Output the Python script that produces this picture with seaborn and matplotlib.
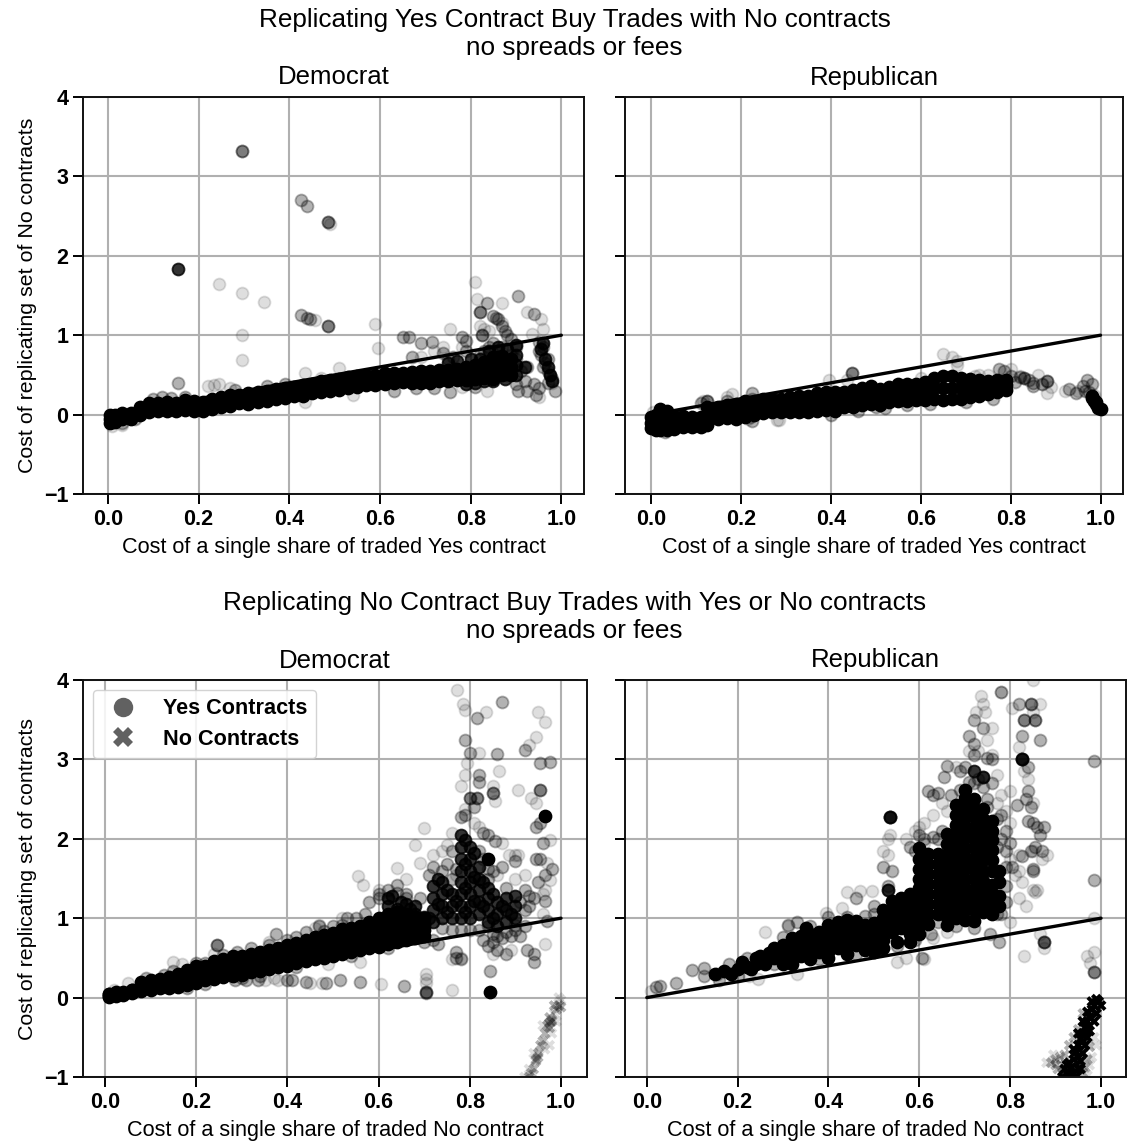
#Replicating contract trades, four scatter panels
import seaborn as sns
import matplotlib.pyplot as plt
from matplotlib.lines import Line2D

W, H = 1134, 1141

panel_titles = ["Democrat", "Republican"]
x_ticks = [0.0, 0.2, 0.4, 0.6, 0.8, 1.0]
y_ticks = [-1, 0, 1, 2, 3, 4]
parity_x = [0, 1]
parity_y = [0, 1]

# top left, Democrat Yes trades: band read as rows across its thickness
a_band_x = [0.005, 0.015, 0.03, 0.05, 0.07, 0.09, 0.11, 0.13, 0.15, 0.17, 0.19, 0.21, 0.23, 0.25, 0.27, 0.29, 0.31, 0.33, 0.35, 0.37, 0.39, 0.41, 0.43, 0.45, 0.47, 0.49, 0.51, 0.53, 0.55, 0.57, 0.59, 0.61, 0.63, 0.65, 0.67, 0.69, 0.71, 0.73, 0.75, 0.77, 0.79, 0.81, 0.83, 0.85, 0.87, 0.89]
a_band_low = [-0.1, -0.09, -0.06, -0.05, 0.0, 0.03, 0.04, 0.05, 0.05, 0.06, 0.05, 0.05, 0.07, 0.1, 0.11, 0.14, 0.13, 0.16, 0.17, 0.2, 0.21, 0.24, 0.24, 0.27, 0.29, 0.3, 0.31, 0.34, 0.35, 0.37, 0.37, 0.39, 0.4, 0.41, 0.4, 0.4, 0.4, 0.42, 0.42, 0.43, 0.44, 0.45, 0.46, 0.45, 0.5, 0.5]
a_band_mid = [-0.05, -0.05, -0.02, -0.02, 0.05, 0.08, 0.1, 0.1, 0.1, 0.12, 0.11, 0.1, 0.13, 0.16, 0.18, 0.2, 0.2, 0.22, 0.24, 0.26, 0.27, 0.3, 0.3, 0.33, 0.35, 0.37, 0.38, 0.4, 0.42, 0.43, 0.44, 0.45, 0.46, 0.47, 0.47, 0.47, 0.47, 0.49, 0.49, 0.5, 0.52, 0.53, 0.56, 0.58, 0.62, 0.6]
a_band_high = [0.0, 0.0, 0.02, 0.02, 0.1, 0.14, 0.15, 0.16, 0.15, 0.18, 0.17, 0.16, 0.2, 0.22, 0.25, 0.25, 0.27, 0.28, 0.3, 0.32, 0.33, 0.35, 0.37, 0.38, 0.42, 0.43, 0.45, 0.47, 0.48, 0.5, 0.5, 0.52, 0.52, 0.53, 0.54, 0.55, 0.55, 0.56, 0.56, 0.58, 0.6, 0.62, 0.66, 0.72, 0.74, 0.7]
a_thick = [(0.8, 0.7), (0.82, 0.7), (0.84, 0.65), (0.84, 0.8), (0.86, 0.6), (0.86, 0.72), (0.86, 0.85), (0.88, 0.55), (0.88, 0.68), (0.88, 0.82), (0.9, 0.5), (0.9, 0.62), (0.9, 0.75), (0.9, 0.88), (0.875, 0.45), (0.85, 0.42), (0.83, 0.42), (0.81, 0.4), (0.79, 0.38), (0.92, 0.6), (0.97, 0.6), (0.975, 0.5), (0.98, 0.42), (0.965, 0.7), (0.955, 0.82), (0.96, 0.9), (0.75, 0.65), (0.77, 0.68)]
a_mid = [(0.295, 3.32), (0.295, 3.32), (0.485, 2.42), (0.485, 2.42), (0.425, 2.7), (0.44, 2.63), (0.425, 1.25), (0.44, 1.22), (0.445, 1.21), (0.485, 1.12), (0.485, 1.12), (0.82, 1.29), (0.82, 1.29), (0.835, 1.4), (0.85, 1.24), (0.855, 1.22), (0.86, 1.2), (0.87, 1.12), (0.875, 1.05), (0.88, 1.0), (0.89, 0.95), (0.825, 1.0), (0.825, 1.0), (0.78, 0.98), (0.79, 0.93), (0.715, 0.92), (0.69, 0.9), (0.65, 0.98), (0.665, 0.98), (0.67, 0.72), (0.74, 0.78), (0.76, 0.72), (0.75, 0.7), (0.755, 0.28), (0.63, 0.3), (0.9, 0.38), (0.905, 0.3), (0.925, 0.3), (0.945, 0.25), (0.985, 0.3), (0.97, 0.4), (0.98, 0.45), (0.975, 0.5), (0.97, 0.55), (0.96, 0.6), (0.965, 0.65), (0.97, 0.7), (0.955, 0.75), (0.95, 0.8), (0.96, 0.85), (0.95, 0.92), (0.94, 1.27), (0.905, 1.49), (0.925, 0.6), (0.88, 0.65), (0.86, 0.8), (0.87, 0.85), (0.9, 0.85), (0.89, 0.75), (0.88, 0.6), (0.9, 0.62), (0.91, 0.55), (0.92, 0.42), (0.85, 0.9), (0.84, 0.85), (0.83, 0.8), (0.82, 0.75), (0.94, 0.38), (0.95, 0.33), (0.155, 0.4), (0.86, 0.55), (0.88, 0.5), (0.9, 0.7), (0.87, 0.7), (0.85, 0.6), (0.1, 0.2), (0.12, 0.22), (0.14, 0.21), (0.17, 0.22), (0.28, 0.31), (0.35, 0.36), (0.39, 0.39), (0.68, 0.33), (0.72, 0.33), (0.79, 0.8), (0.81, 0.35), (0.06, -0.06), (0.03, -0.11)]
a_faint = [(0.245, 1.64), (0.295, 1.53), (0.345, 1.42), (0.295, 1.0), (0.295, 0.69), (0.49, 2.4), (0.457, 1.19), (0.59, 1.14), (0.595, 0.84), (0.51, 0.59), (0.435, 0.53), (0.81, 1.67), (0.815, 1.46), (0.87, 1.4), (0.925, 1.29), (0.955, 1.21), (0.96, 1.08), (0.935, 1.02), (0.755, 1.08), (0.82, 1.12), (0.83, 1.08), (0.84, 1.05), (0.87, 1.15), (0.78, 0.85), (0.69, 0.73), (0.95, 0.22), (0.835, 0.3), (0.78, 0.35), (0.98, 0.4), (0.22, 0.36), (0.235, 0.37), (0.245, 0.38), (0.435, 0.16), (0.27, 0.33), (0.72, 0.8), (0.74, 0.85), (0.47, 0.46), (0.54, 0.25), (0.01, -0.14), (0.03, -0.13)]
a_dark = [(0.155, 1.83)]

# top right, Republican Yes trades
b_band_x = [0.0, 0.01, 0.02, 0.035, 0.05, 0.07, 0.09, 0.11, 0.125, 0.15, 0.17, 0.19, 0.21, 0.23, 0.25, 0.27, 0.29, 0.31, 0.33, 0.35, 0.37, 0.39, 0.41, 0.43, 0.45, 0.47, 0.49, 0.51, 0.53, 0.55, 0.57, 0.59, 0.61, 0.63, 0.65, 0.67, 0.69, 0.71, 0.73, 0.75, 0.77, 0.79]
b_band_low = [-0.17, -0.19, -0.2, -0.19, -0.18, -0.16, -0.15, -0.15, -0.13, -0.05, -0.04, -0.06, -0.03, 0.0, 0.02, 0.03, 0.03, 0.03, 0.03, 0.03, 0.05, 0.06, 0.05, 0.09, 0.1, 0.12, 0.13, 0.12, 0.16, 0.17, 0.17, 0.18, 0.18, 0.2, 0.19, 0.2, 0.2, 0.22, 0.24, 0.26, 0.28, 0.31]
b_band_mid = [-0.1, -0.1, -0.08, -0.1, -0.1, -0.09, -0.09, -0.09, -0.02, 0.02, 0.04, 0.04, 0.07, 0.08, 0.11, 0.12, 0.12, 0.13, 0.13, 0.14, 0.16, 0.17, 0.17, 0.19, 0.2, 0.23, 0.25, 0.22, 0.26, 0.28, 0.28, 0.28, 0.3, 0.33, 0.34, 0.34, 0.33, 0.33, 0.33, 0.34, 0.35, 0.37]
b_band_high = [-0.03, 0.0, 0.07, 0.04, -0.02, -0.02, -0.03, -0.03, 0.1, 0.1, 0.12, 0.13, 0.17, 0.16, 0.2, 0.2, 0.2, 0.22, 0.23, 0.24, 0.27, 0.28, 0.29, 0.29, 0.31, 0.34, 0.36, 0.32, 0.35, 0.39, 0.38, 0.38, 0.41, 0.46, 0.49, 0.48, 0.46, 0.45, 0.43, 0.42, 0.43, 0.44]
b_mid = [(0.125, 0.17), (0.125, 0.17), (0.11, 0.15), (0.17, 0.17), (0.225, 0.27), (0.225, 0.2), (0.22, -0.03), (0.447, 0.52), (0.447, 0.52), (0.46, 0.05), (0.775, 0.58), (0.785, 0.55), (0.8, 0.48), (0.82, 0.47), (0.83, 0.46), (0.83, 0.46), (0.84, 0.43), (0.85, 0.4), (0.85, 0.36), (0.87, 0.38), (0.88, 0.42), (0.88, 0.42), (0.81, 0.41), (0.97, 0.43), (0.93, 0.32), (0.96, 0.36), (0.965, 0.3), (0.945, 0.27), (0.98, 0.38), (0.975, 0.28), (0.52, 0.08), (0.5, 0.1), (0.57, 0.12), (0.7, 0.16), (0.76, 0.2), (0.62, 0.13), (0.4, 0.0), (0.225, -0.08), (0.03, -0.22)]
b_faint = [(0.65, 0.76), (0.67, 0.72), (0.68, 0.67), (0.68, 0.62), (0.395, 0.44), (0.435, 0.43), (0.28, -0.07), (0.285, -0.07), (0.17, 0.22), (0.18, 0.26), (0.115, 0.17), (0.215, -0.05), (0.87, 0.38), (0.89, 0.35), (0.88, 0.27), (0.86, 0.5), (0.92, 0.3), (0.95, 0.3), (0.76, 0.38), (0.73, 0.5), (0.72, 0.48), (0.8, 0.57), (0.82, 0.48), (0.6, 0.46), (0.005, 0.03), (0.75, 0.5), (0.985, 0.25)]
b_dark = [(0.98, 0.23), (0.985, 0.19), (0.99, 0.13), (0.995, 0.08), (1.0, 0.07), (0.98, 0.21), (0.99, 0.16), (0.985, 0.17)]

# bottom left, Democrat No trades
c_band_x = [0.01, 0.025, 0.04, 0.06, 0.08, 0.1, 0.12, 0.14, 0.16, 0.18, 0.2, 0.22, 0.24, 0.26, 0.28, 0.3, 0.32, 0.34, 0.36, 0.38, 0.4, 0.42, 0.44, 0.46, 0.48, 0.5, 0.52, 0.54, 0.56, 0.58, 0.6, 0.62, 0.64, 0.66, 0.68, 0.7]
c_band_low = [0.01, 0.02, 0.03, 0.06, 0.08, 0.1, 0.12, 0.12, 0.13, 0.16, 0.18, 0.22, 0.24, 0.26, 0.27, 0.29, 0.32, 0.33, 0.36, 0.38, 0.4, 0.44, 0.46, 0.48, 0.5, 0.52, 0.55, 0.57, 0.6, 0.62, 0.64, 0.68, 0.7, 0.72, 0.75, 0.78]
c_band_mid1 = [0.02, 0.04, 0.04, 0.07, 0.12, 0.14, 0.16, 0.17, 0.2, 0.22, 0.25, 0.28, 0.31, 0.33, 0.35, 0.37, 0.4, 0.41, 0.44, 0.46, 0.49, 0.52, 0.55, 0.57, 0.6, 0.62, 0.66, 0.68, 0.7, 0.73, 0.77, 0.8, 0.83, 0.83, 0.84, 0.85]
c_band_mid2 = [0.04, 0.05, 0.06, 0.09, 0.16, 0.18, 0.2, 0.22, 0.25, 0.29, 0.33, 0.34, 0.39, 0.41, 0.44, 0.45, 0.48, 0.49, 0.52, 0.55, 0.57, 0.6, 0.63, 0.67, 0.7, 0.72, 0.76, 0.78, 0.8, 0.84, 0.88, 0.92, 0.95, 0.94, 0.93, 0.93]
c_band_high = [0.05, 0.07, 0.07, 0.1, 0.2, 0.22, 0.24, 0.26, 0.3, 0.35, 0.4, 0.4, 0.46, 0.48, 0.52, 0.53, 0.55, 0.57, 0.6, 0.63, 0.66, 0.69, 0.72, 0.76, 0.79, 0.81, 0.86, 0.88, 0.9, 0.95, 1.0, 1.05, 1.08, 1.05, 1.02, 1.0]
c_peak = [(0.62, 0.85), (0.62, 1.0), (0.62, 1.15), (0.62, 1.25), (0.64, 0.85), (0.64, 1.0), (0.64, 1.12), (0.66, 0.85), (0.66, 1.0), (0.66, 1.18), (0.68, 0.9), (0.68, 1.05), (0.68, 1.15), (0.7, 0.9), (0.7, 1.02), (0.72, 0.95), (0.72, 1.1), (0.72, 1.25), (0.72, 1.4), (0.74, 1.0), (0.74, 1.15), (0.74, 1.3), (0.74, 1.45), (0.76, 1.0), (0.76, 1.15), (0.76, 1.3), (0.78, 1.0), (0.78, 1.15), (0.78, 1.3), (0.78, 1.45), (0.78, 1.6), (0.78, 1.75), (0.78, 1.9), (0.78, 2.05), (0.8, 1.0), (0.8, 1.15), (0.8, 1.3), (0.8, 1.45), (0.8, 1.6), (0.8, 1.75), (0.8, 1.9), (0.82, 1.05), (0.82, 1.2), (0.82, 1.35), (0.82, 1.5), (0.82, 1.65), (0.84, 0.95), (0.84, 1.1), (0.84, 1.25), (0.84, 1.38), (0.86, 0.9), (0.86, 1.05), (0.86, 1.2), (0.88, 0.95), (0.88, 1.1), (0.88, 1.25), (0.9, 1.0), (0.9, 1.15), (0.9, 1.28), (0.79, 1.08), (0.79, 1.38), (0.79, 1.68), (0.79, 1.98), (0.81, 1.22), (0.81, 1.52), (0.81, 1.82), (0.83, 1.15), (0.83, 1.45), (0.85, 1.0), (0.85, 1.3), (0.87, 1.15), (0.89, 1.05), (0.73, 1.18), (0.73, 1.5), (0.75, 1.08), (0.75, 1.35), (0.77, 1.22), (0.71, 1.0), (0.67, 1.12), (0.65, 1.2), (0.63, 1.28)]
c_mid = [(0.245, 0.66), (0.245, 0.66), (0.375, 0.8), (0.285, 0.22), (0.31, 0.22), (0.335, 0.22), (0.4, 0.22), (0.41, 0.22), (0.44, 0.2), (0.485, 0.18), (0.515, 0.22), (0.56, 0.2), (0.655, 0.15), (0.705, 0.07), (0.705, 0.06), (0.705, 0.07), (0.845, 0.33), (0.97, 0.97), (0.965, 1.22), (0.95, 1.45), (0.965, 1.55), (0.955, 1.75), (0.945, 1.75), (0.98, 1.62), (0.96, 1.95), (0.945, 2.15), (0.955, 2.2), (0.955, 2.62), (0.955, 2.62), (0.955, 2.95), (0.975, 2.97), (0.85, 2.58), (0.85, 2.58), (0.86, 3.07), (0.87, 3.72), (0.92, 3.12), (0.79, 3.24), (0.8, 3.08), (0.815, 3.52), (0.8, 2.52), (0.8, 2.52), (0.815, 2.52), (0.815, 2.52), (0.81, 2.4), (0.82, 2.72), (0.82, 2.8), (0.78, 2.28), (0.79, 2.3), (0.84, 2.05), (0.83, 2.07), (0.855, 1.97), (0.9, 1.72), (0.87, 1.65), (0.85, 1.6), (0.74, 1.6), (0.71, 1.55), (0.72, 1.65), (0.64, 1.42), (0.62, 1.35), (0.58, 1.2), (0.55, 1.0), (0.53, 1.0), (0.47, 0.9), (0.44, 0.82), (0.92, 1.35), (0.93, 1.28), (0.94, 1.25), (0.93, 1.15), (0.94, 0.55), (0.94, 0.45), (0.925, 0.6), (0.88, 0.55), (0.86, 0.6), (0.85, 0.7), (0.83, 0.72), (0.87, 0.75), (0.89, 0.78), (0.9, 0.85), (0.85, 0.8), (0.77, 0.58), (0.77, 0.5), (0.78, 0.48), (0.73, 0.68), (0.92, 0.9), (0.91, 0.78), (0.84, 0.9), (0.6, 1.3), (0.66, 1.3), (0.69, 1.25), (0.76, 1.5), (0.84, 1.5), (0.88, 1.38), (0.82, 0.85), (0.8, 0.85), (0.78, 0.85), (0.76, 0.85), (0.9, 0.92), (0.88, 0.82), (0.86, 0.78), (0.84, 0.65), (0.72, 0.72), (0.7, 0.7), (0.74, 0.88), (0.75, 1.68), (0.77, 1.62), (0.76, 1.85), (0.84, 1.62), (0.82, 1.85), (0.83, 1.75), (0.91, 1.2), (0.92, 1.1), (0.6, 1.25), (0.64, 1.32), (0.66, 1.25), (0.57, 1.05), (0.52, 0.92), (0.5, 0.9), (0.48, 0.84), (0.42, 0.76), (0.4, 0.72), (0.36, 0.66), (0.32, 0.62), (0.29, 0.58), (0.26, 0.54), (0.22, 0.44), (0.2, 0.44), (0.15, 0.33), (0.13, 0.29), (0.09, 0.25), (0.3, 0.25), (0.34, 0.27), (0.42, 0.39), (0.54, 0.52), (0.62, 0.62), (0.22, 0.17), (0.18, 0.12)]
c_faint = [(0.773, 3.87), (0.785, 3.7), (0.79, 3.62), (0.835, 3.6), (0.95, 3.6), (0.965, 3.47), (0.945, 3.28), (0.93, 3.18), (0.82, 3.08), (0.865, 2.86), (0.795, 2.95), (0.79, 2.8), (0.78, 2.67), (0.85, 2.67), (0.905, 2.62), (0.935, 2.52), (0.945, 2.45), (0.855, 2.48), (0.79, 2.38), (0.81, 2.2), (0.82, 2.15), (0.7, 2.13), (0.68, 1.92), (0.64, 1.63), (0.555, 1.53), (0.565, 1.42), (0.87, 1.95), (0.885, 1.8), (0.9, 1.8), (0.905, 1.8), (0.92, 1.55), (0.975, 1.98), (0.97, 1.7), (0.975, 1.48), (0.965, 1.35), (0.96, 1.3), (0.96, 1.05), (0.965, 0.68), (0.52, 1.0), (0.47, 0.92), (0.46, 0.88), (0.36, 0.7), (0.24, 0.55), (0.77, 1.55), (0.75, 1.92), (0.76, 2.07), (0.705, 0.3), (0.705, 0.23), (0.705, 0.18), (0.76, 0.1), (0.605, 0.17), (0.45, 0.18), (0.475, 0.18), (0.38, 0.22), (0.35, 0.22), (0.56, 0.45), (0.49, 0.42), (0.37, 0.25), (0.25, 0.35), (0.78, 0.5), (0.76, 0.48), (0.85, 0.55), (0.89, 0.6), (0.15, 0.45), (0.17, 0.42), (0.05, 0.18), (0.02, 0.1), (0.69, 1.7), (0.72, 1.8), (0.74, 1.85), (0.86, 1.55), (0.9, 1.5), (0.66, 1.5), (0.6, 1.35)]
c_dark = [(0.845, 0.07), (0.965, 2.29), (0.84, 1.75)]
c_no_mid = [(0.985, -0.1), (0.99, -0.15), (0.995, -0.1), (1.0, -0.12), (0.975, -0.25), (0.98, -0.3), (0.97, -0.35), (0.975, -0.38), (0.98, -0.28), (0.975, -0.32), (0.965, -0.45), (0.96, -0.55), (0.955, -0.6), (0.95, -0.7), (0.95, -0.75), (0.945, -0.8), (0.94, -0.9), (0.935, -0.95), (0.93, -1.0), (0.945, -0.78)]
c_no_faint = [(0.96, -0.35), (0.94, -0.7), (0.99, -0.3), (0.98, -0.45), (0.965, -0.65), (0.93, -0.9), (0.92, -1.0), (1.0, -0.03), (0.995, 0.0), (0.975, -0.6), (0.985, -0.2)]

# bottom right, Republican No trades
d_core = [(0.15, 0.3), (0.17, 0.33), (0.185, 0.3), (0.2, 0.36), (0.21, 0.45), (0.22, 0.38), (0.24, 0.42), (0.25, 0.52), (0.26, 0.46), (0.28, 0.5), (0.28, 0.62), (0.3, 0.52), (0.3, 0.66), (0.32, 0.5), (0.32, 0.64), (0.32, 0.75), (0.34, 0.52), (0.34, 0.66), (0.34, 0.78), (0.36, 0.55), (0.36, 0.68), (0.36, 0.8), (0.38, 0.58), (0.38, 0.7), (0.38, 0.82), (0.4, 0.58), (0.4, 0.7), (0.4, 0.82), (0.4, 0.92), (0.42, 0.62), (0.42, 0.74), (0.42, 0.86), (0.42, 0.95), (0.44, 0.64), (0.44, 0.76), (0.44, 0.88), (0.44, 0.98), (0.46, 0.66), (0.46, 0.78), (0.46, 0.9), (0.46, 0.96), (0.48, 0.7), (0.48, 0.82), (0.48, 0.92), (0.5, 0.68), (0.5, 0.8), (0.5, 0.94), (0.52, 0.72), (0.52, 0.86), (0.52, 1.0), (0.52, 1.1), (0.54, 0.82), (0.54, 0.96), (0.54, 1.08), (0.54, 1.22), (0.56, 0.88), (0.56, 1.0), (0.56, 1.12), (0.56, 1.25), (0.58, 0.8), (0.58, 0.92), (0.58, 1.05), (0.58, 1.18), (0.58, 1.3), (0.6, 1.0), (0.6, 1.12), (0.6, 1.25), (0.6, 1.38), (0.6, 1.5), (0.6, 1.62), (0.6, 1.75), (0.62, 1.05), (0.62, 1.18), (0.62, 1.3), (0.62, 1.43), (0.62, 1.56), (0.62, 1.68), (0.64, 1.05), (0.64, 1.18), (0.64, 1.3), (0.64, 1.43), (0.64, 1.56), (0.64, 1.68), (0.66, 1.02), (0.66, 1.15), (0.66, 1.28), (0.66, 1.41), (0.66, 1.54), (0.66, 1.67), (0.66, 1.8), (0.68, 1.0), (0.68, 1.13), (0.68, 1.26), (0.68, 1.39), (0.68, 1.52), (0.68, 1.65), (0.68, 1.78), (0.68, 1.91), (0.68, 2.04), (0.68, 2.17), (0.68, 2.3), (0.7, 0.98), (0.7, 1.11), (0.7, 1.24), (0.7, 1.37), (0.7, 1.5), (0.7, 1.63), (0.7, 1.76), (0.7, 1.89), (0.7, 2.02), (0.7, 2.15), (0.7, 2.28), (0.7, 2.41), (0.7, 2.52), (0.72, 0.97), (0.72, 1.1), (0.72, 1.23), (0.72, 1.36), (0.72, 1.49), (0.72, 1.62), (0.72, 1.75), (0.72, 1.88), (0.72, 2.01), (0.72, 2.14), (0.72, 2.27), (0.72, 2.38), (0.74, 1.08), (0.74, 1.21), (0.74, 1.34), (0.74, 1.47), (0.74, 1.6), (0.74, 1.73), (0.74, 1.86), (0.74, 1.99), (0.74, 2.12), (0.74, 2.25), (0.76, 1.05), (0.76, 1.18), (0.76, 1.31), (0.76, 1.6), (0.76, 1.73), (0.76, 1.86), (0.76, 1.99), (0.76, 2.1), (0.775, 1.15), (0.775, 1.28), (0.775, 1.45), (0.775, 1.6), (0.66, 1.93), (0.66, 2.06), (0.64, 1.81), (0.62, 1.81), (0.6, 1.88), (0.74, 2.38), (0.76, 2.23), (0.72, 2.5), (0.7, 2.62), (0.68, 2.43), (0.76, 1.42), (0.3, 0.42), (0.32, 0.42), (0.36, 0.48), (0.4, 0.5), (0.44, 0.55), (0.48, 0.6), (0.5, 0.58), (0.52, 0.62), (0.55, 0.7), (0.58, 0.7), (0.6, 0.8), (0.6, 0.9), (0.66, 0.92), (0.62, 0.93), (0.26, 0.42), (0.23, 0.36), (0.27, 0.56), (0.35, 0.88), (0.24, 0.5)]
d_mid = [(0.535, 2.27), (0.535, 2.27), (0.535, 2.27), (0.64, 2.58), (0.62, 2.6), (0.63, 2.55), (0.66, 2.92), (0.655, 2.78), (0.69, 2.85), (0.7, 2.9), (0.73, 2.75), (0.76, 2.7), (0.74, 2.78), (0.74, 2.65), (0.72, 2.7), (0.75, 2.5), (0.78, 2.3), (0.79, 2.1), (0.72, 3.05), (0.72, 3.2), (0.76, 3.0), (0.72, 3.5), (0.71, 3.3), (0.74, 3.4), (0.75, 3.02), (0.78, 3.85), (0.82, 3.7), (0.845, 3.7), (0.845, 3.7), (0.83, 3.5), (0.83, 3.5), (0.855, 3.5), (0.855, 3.5), (0.825, 3.3), (0.865, 3.25), (0.825, 3.0), (0.825, 3.0), (0.825, 3.0), (0.84, 2.9), (0.84, 2.6), (0.835, 2.5), (0.815, 2.42), (0.845, 2.4), (0.85, 2.2), (0.84, 2.22), (0.86, 2.15), (0.875, 2.15), (0.87, 1.85), (0.845, 1.85), (0.855, 1.9), (0.825, 1.78), (0.805, 1.65), (0.85, 1.6), (0.85, 1.62), (0.53, 1.4), (0.54, 1.6), (0.52, 1.65), (0.58, 1.9), (0.59, 1.85), (0.53, 1.35), (0.46, 1.25), (0.5, 1.15), (0.625, 0.8), (0.605, 0.5), (0.755, 0.8), (0.775, 0.7), (0.875, 0.7), (0.875, 0.7), (0.875, 0.7), (0.985, 1.48), (0.985, 0.32), (0.985, 0.32), (0.985, 2.98), (0.1, 0.35), (0.125, 0.37), (0.125, 0.27), (0.155, 0.3), (0.02, 0.13), (0.03, 0.14), (0.065, 0.18), (0.78, 1.05), (0.8, 1.95), (0.865, 2.05), (0.31, 0.92), (0.33, 0.95), (0.78, 2.0), (0.77, 1.9), (0.65, 2.1), (0.63, 2.02), (0.61, 2.0), (0.6, 2.05), (0.64, 2.0), (0.67, 2.55), (0.69, 2.62), (0.71, 2.72), (0.75, 2.4), (0.77, 2.25), (0.79, 1.85), (0.79, 1.65), (0.79, 1.4), (0.79, 1.2), (0.77, 1.05), (0.72, 0.88), (0.68, 0.9), (0.64, 0.95), (0.59, 0.72), (0.55, 0.65), (0.5, 1.05), (0.48, 1.03), (0.44, 1.02), (0.4, 1.02), (0.36, 0.9), (0.3, 0.76), (0.22, 0.5), (0.18, 0.42), (0.16, 0.22), (0.2, 0.27), (0.28, 0.42), (0.38, 0.48), (0.46, 0.55)]
d_faint = [(0.78, 3.85), (0.735, 3.8), (0.74, 3.7), (0.725, 3.6), (0.745, 3.6), (0.76, 3.4), (0.71, 3.1), (0.76, 3.05), (0.805, 3.65), (0.865, 3.7), (0.85, 4.0), (0.85, 3.6), (0.82, 3.15), (0.83, 2.85), (0.84, 2.75), (0.85, 2.45), (0.78, 2.55), (0.8, 2.6), (0.77, 2.8), (0.63, 2.3), (0.65, 2.45), (0.59, 2.1), (0.57, 2.0), (0.535, 2.05), (0.53, 2.0), (0.52, 1.85), (0.53, 1.8), (0.44, 1.33), (0.47, 1.34), (0.495, 1.34), (0.43, 1.13), (0.395, 1.07), (0.26, 0.82), (0.31, 0.9), (0.8, 0.95), (0.82, 1.8), (0.82, 1.6), (0.85, 1.85), (0.87, 1.75), (0.825, 1.45), (0.82, 1.25), (0.85, 1.35), (0.855, 1.33), (0.86, 1.35), (0.835, 1.15), (0.83, 0.53), (0.865, 0.8), (0.55, 0.45), (0.57, 0.5), (0.61, 0.48), (0.66, 0.82), (0.63, 0.75), (0.33, 0.3), (0.245, 0.24), (0.225, 0.27), (0.01, 0.08), (0.985, 1.0), (0.97, 0.53), (0.985, 0.58), (0.975, 0.43), (0.875, 0.62), (0.88, 1.8), (0.6, 2.15), (0.77, 2.45), (0.79, 2.35), (0.8, 2.2), (0.8, 1.75), (0.81, 1.55), (0.61, 2.2), (0.66, 2.35), (0.75, 3.25), (0.73, 3.1), (0.68, 2.9), (0.61, 1.95)]
d_dark = [(0.825, 3.0), (0.535, 2.27), (0.53, 1.35), (0.72, 2.85), (0.74, 2.78)]
d_no_core = [(0.995, -0.05), (1.0, -0.1), (0.99, -0.02), (0.985, -0.1), (0.99, -0.2), (0.98, -0.15), (0.975, -0.25), (0.985, -0.3), (0.97, -0.3), (0.965, -0.38), (0.975, -0.42), (0.96, -0.45), (0.97, -0.5), (0.955, -0.52), (0.965, -0.6), (0.95, -0.6), (0.96, -0.7), (0.945, -0.68), (0.955, -0.8), (0.94, -0.78), (0.95, -0.9), (0.935, -0.88), (0.945, -1.0), (0.925, -0.95), (0.935, -1.0), (0.93, -0.82), (0.92, -0.9), (0.93, -0.95), (0.915, -1.0), (0.925, -0.85), (0.94, -0.65), (0.95, -0.45), (0.96, -0.3), (0.97, -0.18), (0.98, -0.05), (0.95, -0.75), (0.94, -0.95), (0.955, -0.9), (0.96, -0.55), (0.97, -0.4)]
d_no_mid = [(0.89, -0.82), (0.9, -0.85), (0.9, -0.78), (0.905, -0.9), (0.91, -0.75), (0.92, -0.72), (0.93, -0.6), (0.94, -0.5), (0.915, -0.95), (0.92, -0.85), (0.97, -0.78), (0.965, -0.88), (0.95, -0.4), (0.96, -0.2), (0.975, -0.62), (0.96, -0.95)]
d_no_faint = [(0.88, -0.82), (0.99, -0.6), (0.98, -0.75), (0.975, -0.85), (0.97, -0.98), (0.985, -0.5), (0.895, -0.72)]


def dots(ax, points, alpha, marker="o"):
    x = [p[0] for p in points]
    y = [p[1] for p in points]
    if marker == "o":
        sns.scatterplot(x=x, y=y, ax=ax, color="k", alpha=alpha, s=74, marker="o",
                        edgecolor="k", linewidth=1.3, legend=False)
    else:
        sns.scatterplot(x=x, y=y, ax=ax, color="k", alpha=alpha, s=62, marker="X",
                        edgecolor="none", linewidth=0, legend=False)


def band(ax, xs, rows, alpha):
    for row in rows:
        dots(ax, list(zip(xs, row)), alpha)


def finish(ax, box, xlim, title, xlabel, ylabel=None):
    left, right, top, bottom = box
    ax.set_position([left / W, 1 - bottom / H, (right - left) / W, (bottom - top) / H])
    sns.lineplot(x=parity_x, y=parity_y, ax=ax, color="k", linewidth=2.4, errorbar=None, legend=False)
    ax.set_xlim(*xlim)
    ax.set_ylim(-1, 4)
    ax.set_xticks(x_ticks)
    ax.set_yticks(y_ticks)
    ax.grid(True, color="#b0b0b0", linewidth=1.5)
    ax.tick_params(length=7, width=1.4, labelsize=15.5, color="k", labelcolor="k")
    for t in ax.get_xticklabels() + ax.get_yticklabels():
        t.set_fontweight("bold")
    if ylabel is None:
        ax.tick_params(labelleft=False)
    else:
        ax.set_ylabel(ylabel, fontsize=15.4, labelpad=5, color="k")
    ax.set_xlabel(xlabel, fontsize=15.6, labelpad=5, color="k")
    ax.set_title(title, fontsize=18.5, pad=9, color="k")
    for side in ["top", "right", "bottom", "left"]:
        ax.spines[side].set_visible(True)
        ax.spines[side].set_linewidth(1.4)
        ax.spines[side].set_color("#111111")


sns.set_style("ticks")
plt.rcParams['font.family'] = ['Liberation Sans', 'DejaVu Sans']

fig, axes = plt.subplots(2, 2, figsize=(W / 100, H / 100), dpi=100)
ax_a, ax_b, ax_c, ax_d = axes[0, 0], axes[0, 1], axes[1, 0], axes[1, 1]

CORE, THICK, MID, FAINT, DARK = 1.0, 0.8, 0.3, 0.13, 0.8

band(ax_a, a_band_x, [a_band_low, a_band_mid, a_band_high], CORE)
dots(ax_a, a_thick, THICK)
dots(ax_a, a_mid, MID)
dots(ax_a, a_faint, FAINT)
dots(ax_a, a_dark, DARK)

band(ax_b, b_band_x, [b_band_low, b_band_mid, b_band_high], CORE)
dots(ax_b, b_mid, MID)
dots(ax_b, b_faint, FAINT)
dots(ax_b, b_dark, CORE)

band(ax_c, c_band_x, [c_band_low, c_band_mid1, c_band_mid2, c_band_high], CORE)
dots(ax_c, c_peak, THICK)
dots(ax_c, c_mid, MID)
dots(ax_c, c_faint, FAINT)
dots(ax_c, c_dark, CORE)
dots(ax_c, c_no_mid, MID, "X")
dots(ax_c, c_no_faint, FAINT, "X")

dots(ax_d, d_core, CORE)
dots(ax_d, d_mid, MID)
dots(ax_d, d_faint, FAINT)
dots(ax_d, d_dark, DARK)
dots(ax_d, d_no_core, CORE, "X")
dots(ax_d, d_no_mid, MID, "X")
dots(ax_d, d_no_faint, FAINT, "X")

finish(ax_a, (83, 584, 97, 494), (-0.055, 1.05), panel_titles[0],
       "Cost of a single share of traded Yes contract", "Cost of replicating set of No contracts")
finish(ax_b, (625, 1123, 97, 494), (-0.058, 1.05), panel_titles[1],
       "Cost of a single share of traded Yes contract")
finish(ax_c, (83, 587, 680, 1077), (-0.048, 1.057), panel_titles[0],
       "Cost of a single share of traded No contract", "Cost of replicating set of contracts")
finish(ax_d, (625, 1126, 680, 1077), (-0.048, 1.055), panel_titles[1],
       "Cost of a single share of traded No contract")

handles = [
    Line2D([], [], linestyle="none", marker="o", color="k", alpha=0.62, markersize=14, markeredgewidth=0),
    Line2D([], [], linestyle="none", marker="X", color="k", alpha=0.62, markersize=14, markeredgewidth=0),
]
ax_c.legend(handles, ["Yes Contracts", "No Contracts"], loc="upper left",
            prop={"weight": "bold", "size": 15.6}, frameon=True, framealpha=0.85,
            bbox_to_anchor=(0.0, 1.0), borderaxespad=0.45, handletextpad=0.85,
            labelspacing=0.42, borderpad=0.4, labelcolor="k")

fig.text(574.5 / W, 1 - 20 / H, "Replicating Yes Contract Buy Trades with No contracts",
         ha="center", va="center", fontsize=18.8, color="k")
fig.text(574.5 / W, 1 - 48 / H, "no spreads or fees", ha="center", va="center", fontsize=18.8, color="k")
fig.text(574.5 / W, 1 - 603 / H, "Replicating No Contract Buy Trades with Yes or No contracts",
         ha="center", va="center", fontsize=18.8, color="k")
fig.text(574.5 / W, 1 - 631 / H, "no spreads or fees", ha="center", va="center", fontsize=18.8, color="k")

fig.savefig("out.png", dpi=100)
